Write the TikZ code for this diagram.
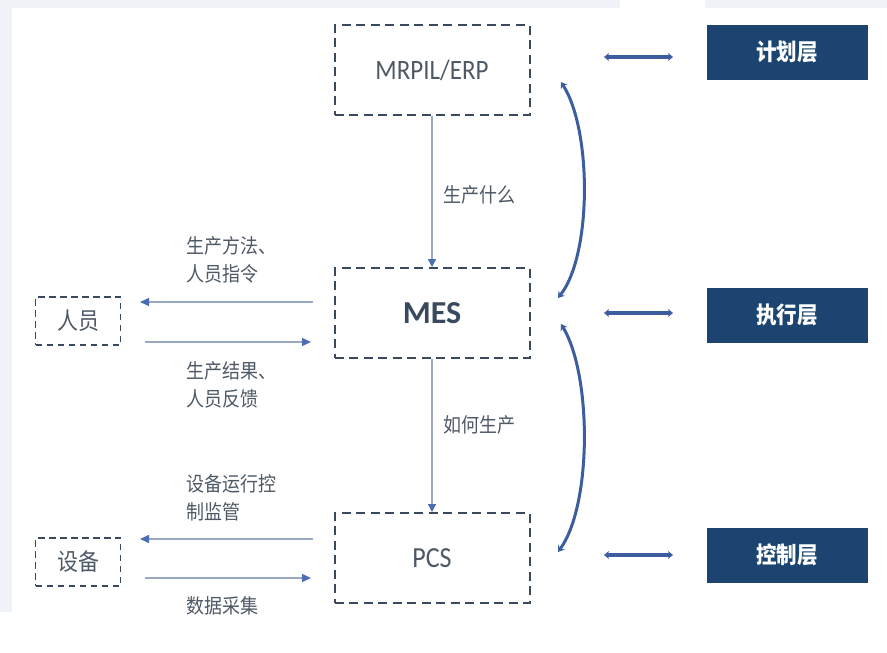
\documentclass[tikz,border=0pt]{standalone}
\usepackage{fontspec}
\setmainfont{Carlito}
\newfontfamily\cjk{Noto Sans CJK SC}
\usetikzlibrary{arrows.meta}
\definecolor{bgl}{HTML}{EFF3F8}
\definecolor{boxc}{HTML}{3A4A5E}
\definecolor{navy}{HTML}{1B4570}
\definecolor{txt}{HTML}{4E5966}
\definecolor{linec}{HTML}{9AA9C2}
\definecolor{tipc}{HTML}{4A6DB5}
\definecolor{bluec}{HTML}{3C5E9E}
\newcommand\vst[1]{\scalebox{1}[1.12]{#1}}
\newcommand\vml[1]{\scalebox{1}[1.12]{\begin{tabular}{@{}l@{}}#1\end{tabular}}}
\begin{document}
\begin{tikzpicture}[x=1pt,y=-1pt,
  dbox/.style={draw=boxc, line width=2pt, dash pattern=on 9pt off 5.5pt, minimum width=195pt, minimum height=90pt, inner sep=0pt},
  sbox/.style={draw=boxc, line width=1.8pt, dash pattern=on 6.5pt off 4.5pt, minimum width=85pt, minimum height=48pt, inner sep=0pt, text=txt, font=\cjk\fontsize{21}{24}\selectfont},
  layer/.style={fill=navy, minimum width=161pt, minimum height=55pt, inner sep=0pt, text=white, font=\cjk\bfseries\fontsize{20.5}{24}\selectfont},
  lbl/.style={text=txt, font=\cjk\fontsize{18}{25}\selectfont, inner sep=0pt, anchor=west},
  varrow/.style={draw=linec, line width=1.3pt, -{Triangle[length=8pt,width=8pt,color=tipc]}},
  harrow/.style={draw=linec, line width=1.5pt, -{Triangle[length=9pt,width=8pt,color=tipc]}},
  dbl/.style={draw=bluec, line width=3.5pt, {Stealth[length=5pt,width=8pt]}-{Stealth[length=5pt,width=8pt]}},
  brace/.style={draw=bluec, line width=3pt, {Stealth[length=6pt,width=8pt]}-{Stealth[length=6pt,width=8pt]}}
]
\useasboundingbox (0,0) rectangle (887,653);
\fill[bgl] (0,0) rectangle (887,8);
\fill[bgl] (0,0) rectangle (12,612);
\fill[white] (620,0) rectangle (705,8);

% main boxes
\node[dbox, text=txt, font=\fontsize{25}{28}\selectfont] (erp) at (432,70) {\vst{MRPIL/ERP}};
\node[dbox, text=boxc, font=\bfseries\fontsize{32}{36}\selectfont] (mes) at (432,313) {MES};
\node[dbox, text=txt, font=\fontsize{26}{30}\selectfont] (pcs) at (432,558) {\vst{PCS}};

% side boxes
\node[sbox] (ry) at (78,321) {\vst{人员}};
\node[sbox] (sb) at (78,562) {\vst{设备}};

% layer boxes
\node[layer] (jh) at (787,52) {\vst{计划层}};
\node[layer] (zx) at (787,315) {\vst{执行层}};
\node[layer] (kz) at (787,555) {\vst{控制层}};

% vertical arrows
\draw[varrow] (erp.south) -- (mes.north);
\draw[varrow] (mes.south) -- (pcs.north);
\node[lbl] (l1) at (443,195) {\vst{生产什么}};
\node[lbl] (l2) at (443,425) {\vst{如何生产}};

% horizontal arrows (people)
\coordinate (a1s) at (313,302); \coordinate (a1e) at (140,302);
\coordinate (a2s) at (145,342); \coordinate (a2e) at (311,342);
\draw[harrow] (a1s) -- (a1e);
\draw[harrow] (a2s) -- (a2e);
\node[lbl] (l3) at (186,262) {\vml{生产方法、\\人员指令}};
\node[lbl] (l4) at (186,387) {\vml{生产结果、\\人员反馈}};

% horizontal arrows (equipment)
\coordinate (b1s) at (313,539); \coordinate (b1e) at (140,539);
\coordinate (b2s) at (145,578); \coordinate (b2e) at (311,578);
\draw[harrow] (b1s) -- (b1e);
\draw[harrow] (b2s) -- (b2e);
\node[lbl] (l5) at (186,500) {\vml{设备运行控\\制监管}};
\node[lbl] (l6) at (186,606) {\vst{数据采集}};

% double arrows
\coordinate (d1a) at (604,57); \coordinate (d1b) at (673,57);
\coordinate (d2a) at (604,313); \coordinate (d2b) at (673,313);
\coordinate (d3a) at (604,555); \coordinate (d3b) at (673,555);
\draw[dbl] (d1a) -- (d1b);
\draw[dbl] (d2a) -- (d2b);
\draw[dbl] (d3a) -- (d3b);

% braces
\coordinate (c1a) at (561,82); \coordinate (c1b) at (558,298);
\coordinate (c2a) at (561,324); \coordinate (c2b) at (558,552);
\draw[brace] (c1a) .. controls (592,130) and (592,255) .. (c1b);
\draw[brace] (c2a) .. controls (592,375) and (592,505) .. (c2b);
\end{tikzpicture}
\end{document}
